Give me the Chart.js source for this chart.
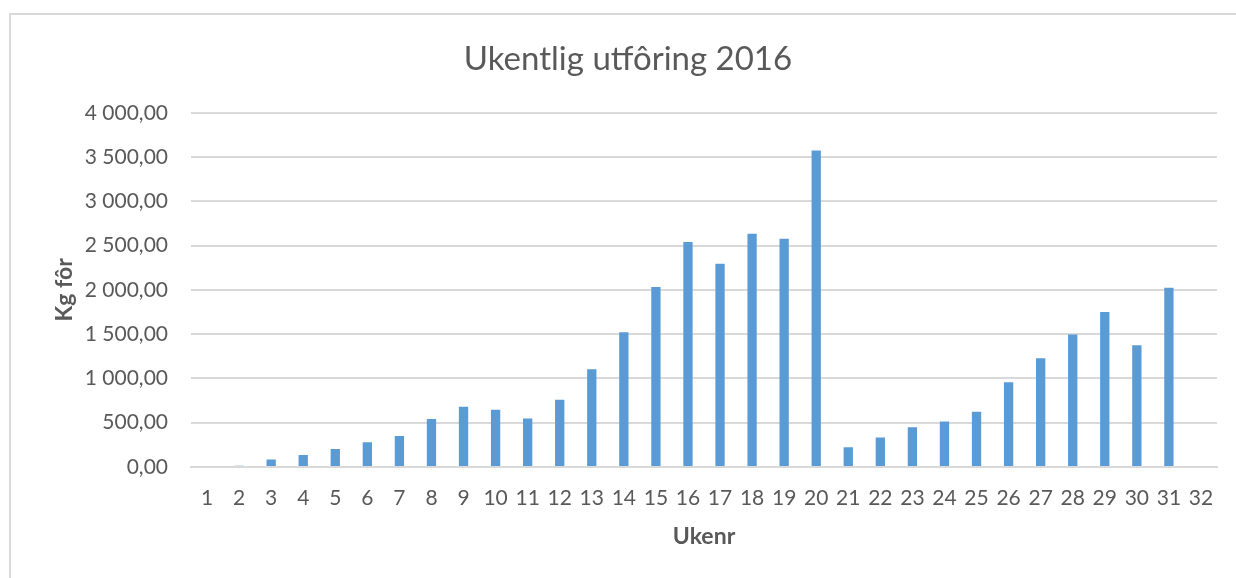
<!DOCTYPE html>
<html>
<head>
<meta charset="utf-8">
<script src="https://cdn.jsdelivr.net/npm/chart.js@4/dist/chart.umd.min.js"></script>
<style>
  body { margin: 0; background: #fff; }
  #wrap { position: relative; width: 1236px; height: 578px; overflow: hidden; }
  #frame { position: absolute; left: 9px; top: 13px; right: -10px; bottom: -10px;
           border-left: 2px solid #d9d9d9; border-top: 2px solid #d9d9d9; }
  canvas { position: absolute; left: 0; top: 0; }
</style>
</head>
<body>
<div id="wrap">
  <div id="frame"></div>
  <canvas id="c" width="1236" height="578"></canvas>
</div>
<script>
// Ukentlig utfôring 2016 — kg fôr per uke
const weeks = ['1','2','3','4','5','6','7','8','9','10','11','12','13','14','15','16',
               '17','18','19','20','21','22','23','24','25','26','27','28','29','30','31','32'];
const kgFor = [0, 14, 85, 136, 204, 280, 351, 542, 680, 646, 549, 759, 1104, 1522, 2032, 2541,
               2295, 2635, 2578, 3574, 223, 333, 450, 514, 623, 957, 1229, 1497, 1750, 1376, 2025, 0];
const yMin = 0, yMax = 4000, yStep = 500;

const FONT = 'Lato, "Open Sans", sans-serif';
const GREY = '#595959';

function fmtNo(v) {
  const parts = v.toFixed(2).split('.');
  parts[0] = parts[0].replace(/\B(?=(\d{3})+(?!\d))/g, ' ');
  return parts[0] + ',' + parts[1];
}

new Chart(document.getElementById('c'), {
  type: 'bar',
  data: {
    labels: weeks,
    datasets: [{
      label: 'Kg fôr',
      data: kgFor,
      backgroundColor: '#5b9bd5',
      borderWidth: 0,
      categoryPercentage: 1,
      barPercentage: 0.29,
    }],
  },
  options: {
    responsive: false,
    animation: false,
    devicePixelRatio: 1,
    // venstre padding flytter tittelen mot midten av rammen
    layout: { padding: { left: 39, right: 19, top: 0, bottom: 0 } },
    plugins: {
      legend: { display: false },
      tooltip: { enabled: false },
      title: {
        display: true,
        text: 'Ukentlig utfôring 2016',
        color: GREY,
        font: { family: FONT, size: 33, weight: 'normal', lineHeight: 1.2 },
        padding: { top: 40, bottom: 33.2 },
      },
    },
    scales: {
      x: {
        grid: { display: false, drawTicks: false },
        border: { display: true, color: '#d9d9d9', width: 2 },
        ticks: { color: GREY, font: { family: FONT, size: 21 }, padding: 19, maxRotation: 0, autoSkip: false },
        title: {
          display: true, text: 'Ukenr', color: GREY,
          font: { family: FONT, size: 23, weight: 'bold', lineHeight: 1.2 },
          padding: { top: 0, bottom: 28 },
        },
        afterFit: s => { s.height = 111; },
      },
      y: {
        min: yMin, max: yMax,
        grid: { color: '#d9d9d9', lineWidth: 2, drawTicks: false },
        border: { display: false },
        ticks: { stepSize: yStep, color: GREY, font: { family: FONT, size: 21 }, padding: 23, callback: v => fmtNo(v) },
        title: {
          display: true, text: 'Kg fôr', color: GREY,
          font: { family: FONT, size: 23, weight: 'bold', lineHeight: 1.2 },
          padding: { top: 12, bottom: 0 },
        },
        afterFit: s => { s.width = 152; },
      },
    },
  },
});
</script>
</body>
</html>
